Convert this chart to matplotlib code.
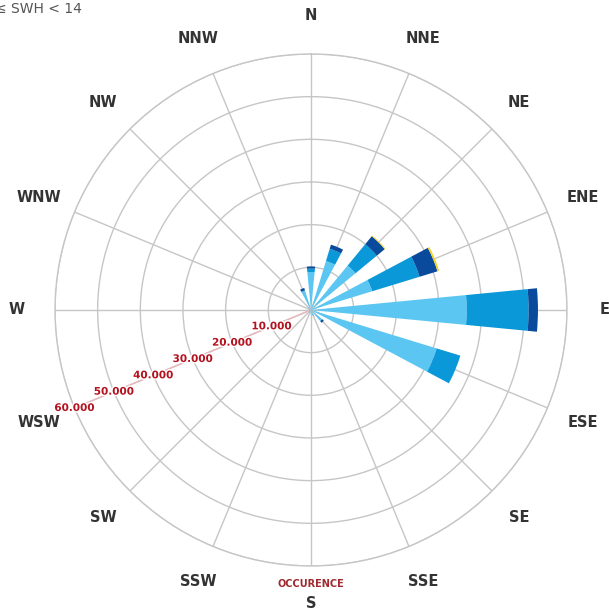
import numpy as np
import matplotlib
matplotlib.use('Agg')
import matplotlib.pyplot as plt
import matplotlib.patheffects as pe

# wind-rose style occurrence per direction, stacked by class
directions = ['N', 'NNE', 'NE', 'ENE', 'E', 'ESE', 'SE', 'SSE',
              'S', 'SSW', 'SW', 'WSW', 'W', 'WNW', 'NW', 'NNW']
light = [8900, 12000, 13500, 15000, 36500, 30800, 3400, 1500,
         1000, 800, 600, 500, 500, 500, 900, 4800]
medium = [800, 3000, 6500, 11600, 14500, 5800, 0, 0,
          0, 0, 0, 0, 0, 0, 0, 0]
dark = [500, 1000, 2400, 4400, 2200, 0, 500, 0,
        0, 0, 0, 0, 0, 0, 0, 600]
yellow = [0, 0, 200, 400, 0, 0, 0, 0,
          0, 0, 0, 0, 0, 0, 0, 0]
ring_values = [10000, 20000, 30000, 40000, 50000, 60000]
ring_labels = ['10.000', '20.000', '30.000', '40.000', '50.000', '60.000']

colors = ['#5cc6f2', '#0a98d8', '#0a4a9c', '#f2d21a']
grid_col = '#c6c6c6'
rmax = 60000

fig = plt.figure(figsize=(6.09, 6.12), dpi=100)
ax = fig.add_axes([0.0903, 0.0752, 0.8407, 0.8366], projection='polar')
ax.set_theta_zero_location('N')
ax.set_theta_direction(-1)

theta = np.deg2rad(np.arange(16) * 22.5)
width = np.deg2rad(11)

bottom = np.zeros(16)
for vals, c in zip([light, medium, dark, yellow], colors):
    vals = np.array(vals, dtype=float)
    ax.bar(theta, vals, width=width, bottom=bottom, color=c,
           edgecolor='none', zorder=3)
    bottom = bottom + vals

ax.set_ylim(0, rmax)
ax.set_yticks(ring_values)
ax.set_yticklabels([])
ax.set_xticks(theta)
ax.set_xticklabels([])
ax.grid(True, color=grid_col, linewidth=1.0)
ax.spines['polar'].set_color(grid_col)
ax.spines['polar'].set_linewidth(1.0)
ax.tick_params(length=0)

# direction labels outside the circle
for t, name in zip(theta, directions):
    ax.text(t, rmax * 294 / 256, name, ha='center', va='center',
            fontsize=10.5, fontweight='semibold', color='#333333',
            clip_on=False)

# radial labels along WSW spoke
t_lab = np.deg2rad(247.5)
ax.plot([t_lab, t_lab], [0, rmax], color='#e8b8bc', linewidth=1.0, zorder=2)
for r, lab in zip(ring_values, ring_labels):
    ax.text(t_lab, r, lab, ha='center', va='center', fontsize=7.5,
            fontweight='bold', color='#b3121f', zorder=5,
            path_effects=[pe.withStroke(linewidth=2, foreground='white')])

ax.text(np.pi, rmax * 274 / 256, 'OCCURENCE', ha='center', va='center',
        fontsize=7, fontweight='bold', color='#9e2a2f', clip_on=False)

fig.text(-0.009, 0.986, '≤ SWH < 14', ha='left', va='center',
         fontsize=10, color='#555555')

fig.savefig('out.png', dpi=100, facecolor='white')
